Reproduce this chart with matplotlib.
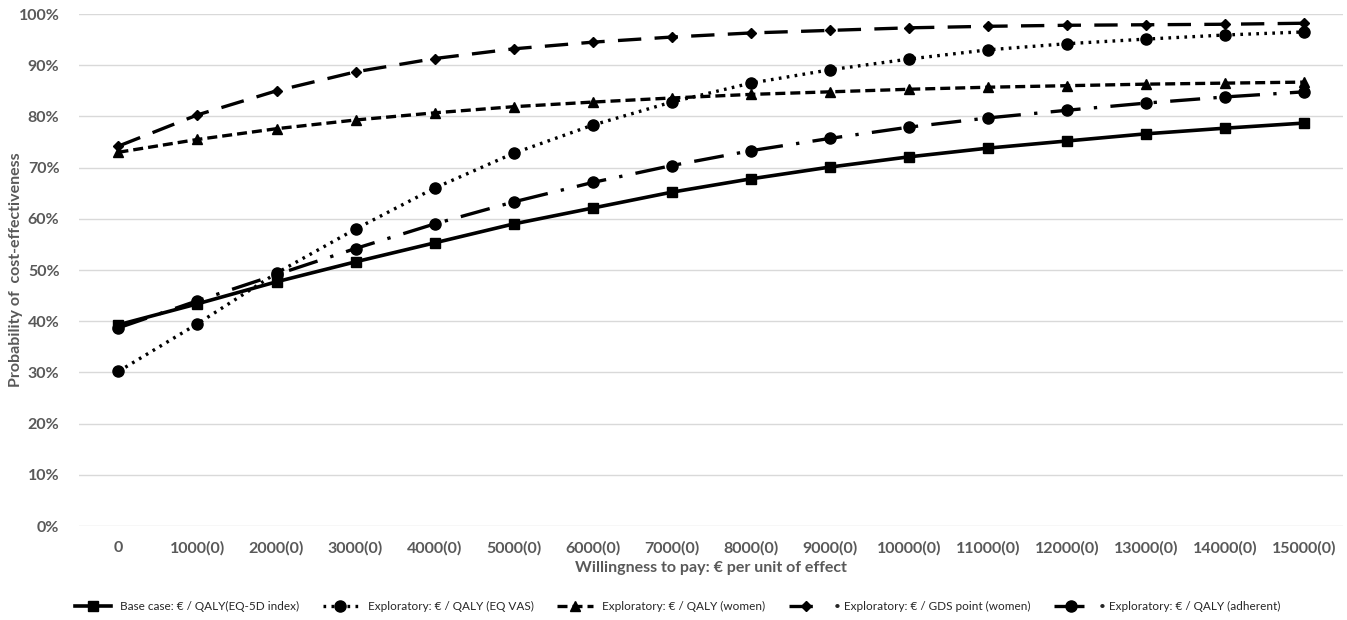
"""Cost-effectiveness acceptability curves (CEAC) for base case and exploratory analyses."""
import matplotlib
matplotlib.use("Agg")
import matplotlib.pyplot as plt
from matplotlib.ticker import PercentFormatter

# willingness-to-pay categories
wtp_labels = ["0", "1000(0)", "2000(0)", "3000(0)", "4000(0)", "5000(0)", "6000(0)",
              "7000(0)", "8000(0)", "9000(0)", "10000(0)", "11000(0)", "12000(0)",
              "13000(0)", "14000(0)", "15000(0)"]

# probability of cost-effectiveness (%)
base_case = [39.3, 43.4, 47.7, 51.6, 55.3, 59.0, 62.1, 65.2, 67.8, 70.1, 72.1, 73.8,
             75.2, 76.6, 77.7, 78.7]
eq_vas = [30.2, 39.5, 49.4, 58.0, 66.0, 72.8, 78.3, 82.8, 86.5, 89.1, 91.2, 93.0,
          94.2, 95.1, 95.9, 96.5]
women = [73.0, 75.5, 77.6, 79.3, 80.7, 81.9, 82.8, 83.6, 84.3, 84.8, 85.3, 85.7,
         86.0, 86.3, 86.5, 86.7]
gds_women = [74.2, 80.3, 85.0, 88.7, 91.3, 93.2, 94.5, 95.5, 96.3, 96.8, 97.3, 97.6,
             97.8, 97.9, 98.0, 98.2]
adherent = [38.7, 44.0, 49.1, 54.2, 59.0, 63.3, 67.1, 70.4, 73.3, 75.7, 77.9, 79.7,
            81.2, 82.6, 83.8, 84.8]

plt.rcParams["font.family"] = ["Lato", "DejaVu Sans"]
grey = "#595959"

fig = plt.figure(figsize=(13.47, 6.2), dpi=100)
ax = fig.add_axes([0.0586, 0.1516, 0.9388, 0.8258])

x = list(range(len(wtp_labels)))
ax.plot(x, base_case, color="black", lw=2.6, ls="-", marker="s", ms=7,
        label="Base case: € / QALY(EQ-5D index)")
ax.plot(x, eq_vas, color="black", lw=2.4, ls=(0, (0.8, 1.6)), marker="o", ms=8,
        label="Exploratory: € / QALY (EQ VAS)")
ax.plot(x, women, color="black", lw=2.4, ls=(0, (3, 1.5)), marker="^", ms=7,
        label="Exploratory: € / QALY (women)")
ax.plot(x, gds_women, color="black", lw=2.4, ls=(0, (7, 4)), marker="D", ms=5.5,
        label="• Exploratory: € / GDS point (women)")
ax.plot(x, adherent, color="black", lw=2.4, ls=(0, (9, 4, 1, 4)), marker="o", ms=8,
        label="• Exploratory: € / QALY (adherent)")

ax.set_xlim(-0.5, len(wtp_labels) - 0.5)
ax.set_ylim(0, 100)
ax.set_yticks(range(0, 101, 10))
ax.yaxis.set_major_formatter(PercentFormatter(decimals=0))
ax.set_xticks(x)
ax.set_xticklabels(wtp_labels)
ax.grid(axis="y", color="#d9d9d9", lw=1)
ax.set_axisbelow(True)
for s in ax.spines.values():
    s.set_visible(False)
ax.tick_params(length=0, colors=grey, labelsize=11.5)
for lab in ax.get_xticklabels() + ax.get_yticklabels():
    lab.set_fontweight("bold")
ax.tick_params(axis="x", pad=11)
ax.tick_params(axis="y", pad=14)

ax.set_xlabel("Willingness to pay: € per unit of effect", fontsize=11.5,
              fontweight="bold", color=grey, labelpad=4)
ax.set_ylabel("Probability of  cost-effectiveness", fontsize=11.5,
              fontweight="bold", color=grey)
ax.yaxis.set_label_coords(-0.0443, 0.5)

fig.legend(loc="lower center", bbox_to_anchor=(0.503, -0.005), ncol=5, frameon=False,
           fontsize=8.5, handlelength=3.0, columnspacing=2.0, labelcolor="#262626")

fig.savefig("out.png", dpi=100)
